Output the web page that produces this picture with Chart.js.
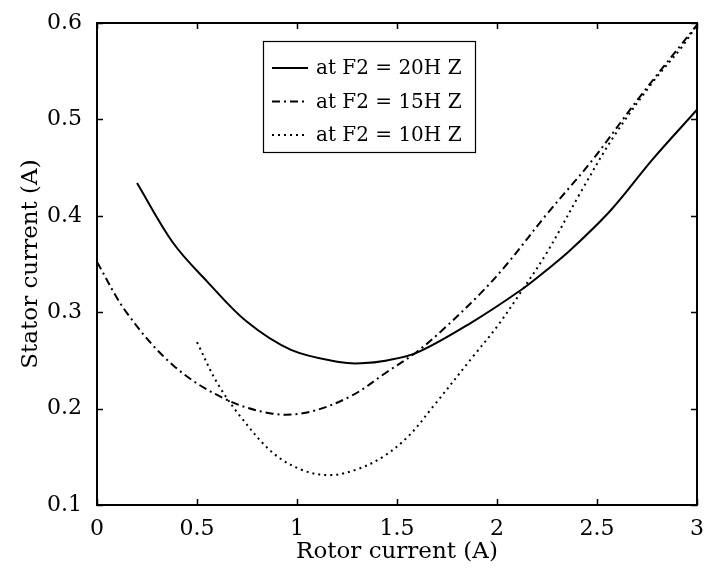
<!DOCTYPE html>
<html>
<head>
<meta charset="utf-8">
<script src="https://cdn.jsdelivr.net/npm/chart.js@4"></script>
<style>
  html, body { margin: 0; padding: 0; background: #fff; }
  #wrap { width: 704px; height: 570px; }
</style>
</head>
<body>
<div id="wrap"><canvas id="chart"></canvas></div>
<script>
// data
var x20 = [0.2, 0.38, 0.55, 0.75, 0.97, 1.22, 1.32, 1.45, 1.6, 1.87, 2.12, 2.25, 2.37, 2.57, 2.78, 3.0];
var y20 = [0.434, 0.372, 0.332, 0.290, 0.261, 0.248, 0.247, 0.250, 0.258, 0.289, 0.323, 0.344, 0.365, 0.406, 0.459, 0.510];

var x15 = [0, 0.15, 0.38, 0.63, 0.87, 1.05, 1.27, 1.45, 1.6, 1.73, 1.92, 2.05, 2.25, 2.47, 2.72, 3.0];
var y15 = [0.352, 0.299, 0.245, 0.211, 0.195, 0.196, 0.213, 0.238, 0.259, 0.282, 0.320, 0.350, 0.402, 0.456, 0.525, 0.598];

var x10 = [0.5, 0.6, 0.72, 0.88, 1.03, 1.17, 1.3, 1.43, 1.56, 1.68, 1.88, 2.0, 2.12, 2.25, 2.42, 2.58, 2.78, 2.92, 3.0];
var y10 = [0.269, 0.227, 0.191, 0.154, 0.136, 0.131, 0.137, 0.150, 0.172, 0.202, 0.254, 0.285, 0.321, 0.362, 0.425, 0.481, 0.539, 0.574, 0.598];

var seriesLabels = ['at F2 = 20H Z', 'at F2 = 15H Z', 'at F2 = 10H Z'];
var xTicks = [0, 0.5, 1, 1.5, 2, 2.5, 3];
var yTicks = [0.1, 0.2, 0.3, 0.4, 0.5, 0.6];

var FONT = '"DejaVu Serif", "Liberation Serif", serif';

function pairs(xs, ys) {
    return xs.map(function (x, i) { return { x: x, y: ys[i] }; });
}

// MATLAB style frame, inward ticks on all four sides, boxed legend
var framePlugin = {
    id: 'frame',
    afterDatasetsDraw: function (chart) {
        var ctx = chart.ctx;
        var a = chart.chartArea;
        var xs = chart.scales.x, ys = chart.scales.y;
        ctx.save();
        ctx.strokeStyle = '#000';
        ctx.lineWidth = 2;
        ctx.strokeRect(a.left, a.top, a.right - a.left, a.bottom - a.top);
        ctx.lineWidth = 1.5;
        ctx.beginPath();
        xTicks.forEach(function (v) {
            var px = Math.round(xs.getPixelForValue(v)) + 0.5;
            ctx.moveTo(px, a.bottom); ctx.lineTo(px, a.bottom - 6);
            ctx.moveTo(px, a.top); ctx.lineTo(px, a.top + 6);
        });
        yTicks.forEach(function (v) {
            var py = Math.round(ys.getPixelForValue(v)) + 0.5;
            ctx.moveTo(a.left, py); ctx.lineTo(a.left + 6, py);
            ctx.moveTo(a.right, py); ctx.lineTo(a.right - 6, py);
        });
        ctx.stroke();

        // legend
        var bx = 263, by = 41, bw = 212, bh = 111;
        ctx.fillStyle = '#fff';
        ctx.fillRect(bx, by, bw, bh);
        ctx.lineWidth = 1.2;
        ctx.strokeRect(bx + 0.5, by + 0.5, bw, bh);
        ctx.font = '20px ' + FONT;
        ctx.textBaseline = 'middle';
        chart.data.datasets.forEach(function (ds, i) {
            var ry = 68 + i * 33.5;
            ctx.beginPath();
            ctx.setLineDash(ds.borderDash || []);
            ctx.lineWidth = ds.borderWidth;
            ctx.moveTo(272, ry); ctx.lineTo(308, ry);
            ctx.stroke();
            ctx.setLineDash([]);
            ctx.fillStyle = '#000';
            ctx.fillText(ds.label, 316, ry + 1);
        });
        ctx.restore();
    }
};

new Chart(document.getElementById('chart'), {
    type: 'scatter',
    data: {
        datasets: [
            {
                label: seriesLabels[0],
                data: pairs(x20, y20),
                borderColor: '#000',
                borderWidth: 2,
                borderDash: []
            },
            {
                label: seriesLabels[1],
                data: pairs(x15, y15),
                borderColor: '#000',
                borderWidth: 2,
                borderDash: [8, 4, 2, 4]
            },
            {
                label: seriesLabels[2],
                data: pairs(x10, y10),
                borderColor: '#000',
                borderWidth: 2,
                borderDash: [2, 4]
            }
        ]
    },
    options: {
        responsive: true,
        maintainAspectRatio: false,
        animation: false,
        showLine: true,
        elements: {
            point: { radius: 0, hoverRadius: 0 },
            line: { tension: 0.35, fill: false }
        },
        layout: { padding: { left: 0, top: 23, right: 7, bottom: 0 } },
        plugins: {
            legend: { display: false },
            tooltip: { enabled: false }
        },
        scales: {
            x: {
                type: 'linear',
                min: 0,
                max: 3,
                afterBuildTicks: function (s) { s.ticks = xTicks.map(function (v) { return { value: v }; }); },
                afterFit: function (s) { s.height = 65; s.paddingLeft = 0; s.paddingRight = 0; },
                grid: { display: false },
                border: { display: false },
                ticks: {
                    color: '#000',
                    padding: 3,
                    font: { family: FONT, size: 22 },
                    callback: function (v) { return String(v); }
                },
                title: {
                    display: true,
                    text: 'Rotor current (A)',
                    color: '#000',
                    font: { family: FONT, size: 23 },
                    padding: { top: 0, bottom: 4 }
                }
            },
            y: {
                type: 'linear',
                min: 0.1,
                max: 0.6,
                afterBuildTicks: function (s) { s.ticks = yTicks.map(function (v) { return { value: v }; }); },
                afterFit: function (s) { s.width = 97; s.paddingTop = 0; s.paddingBottom = 0; },
                grid: { display: false },
                border: { display: false },
                ticks: {
                    color: '#000',
                    padding: 7,
                    font: { family: FONT, size: 22 },
                    callback: function (v) { return v.toFixed(1); }
                },
                title: {
                    display: true,
                    text: 'Stator current (A)',
                    color: '#000',
                    font: { family: FONT, size: 23 },
                    padding: { top: 17, bottom: 0 }
                }
            }
        }
    },
    plugins: [framePlugin]
});
</script>
</body>
</html>
